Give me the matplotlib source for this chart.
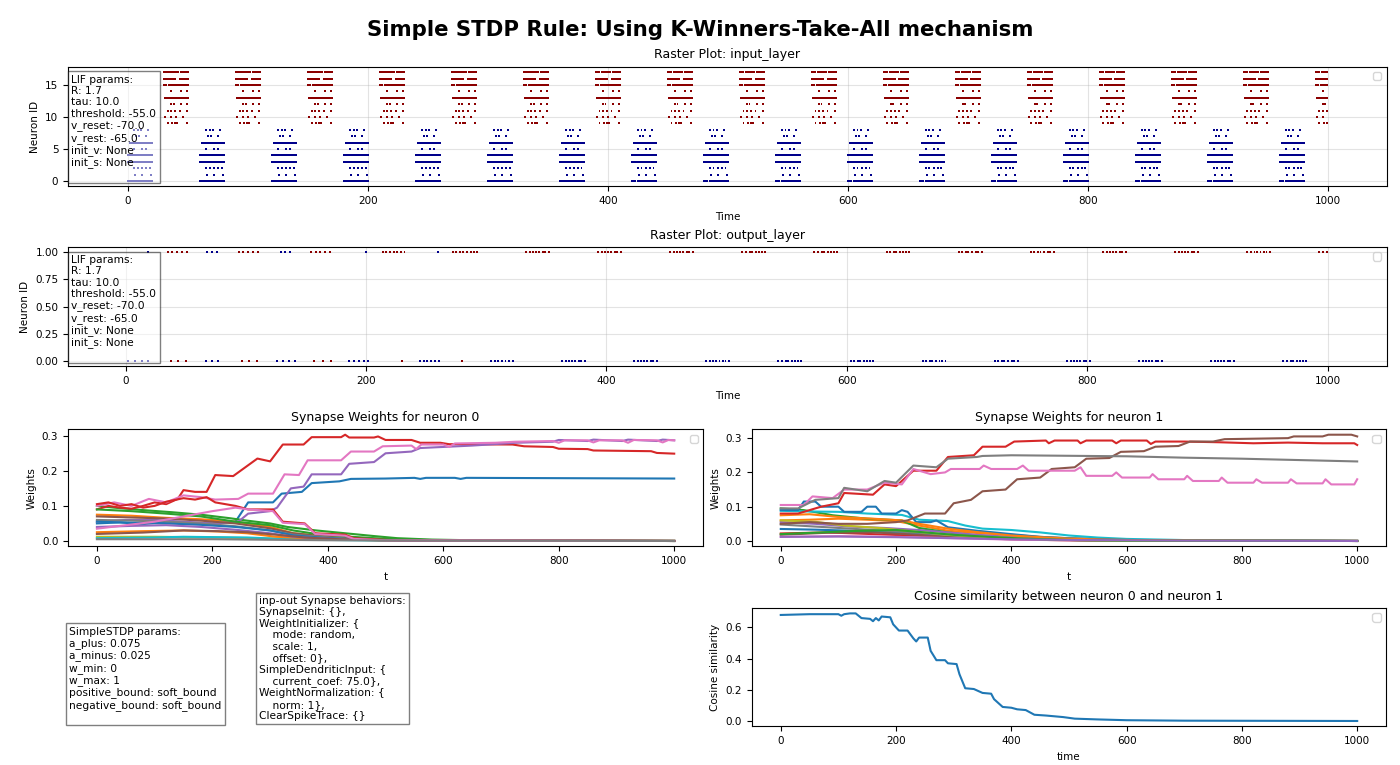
import matplotlib
matplotlib.use('Agg')
import matplotlib.pyplot as plt
import numpy as np

# ---- data ----
sim_steps = 1000
period = 60          # one blue pattern + one red pattern
red_shift = 30
cycle_starts = list(range(0, sim_steps, period))

# spike offsets (inside a 20 step window) of every input neuron
blue_pattern = [
    [0, 1, 2, 3, 5, 6, 7, 8, 9, 11, 12, 13, 14, 16, 17, 18, 19, 20],   # 0
    [6, 12, 19],                                                      # 1
    [5, 8, 12, 15, 18],                                               # 2
    [0, 1, 2, 3, 4, 5, 6, 7, 8, 9, 10, 11, 12, 13, 14, 15, 16, 17, 18, 19, 20],  # 3
    [0, 1, 2, 3, 4, 5, 6, 7, 8, 9, 10, 11, 12, 13, 14, 15, 16, 17, 18, 19, 20],  # 4
    [5, 12, 15],                                                      # 5
    [2, 3, 4, 5, 6, 7, 8, 9, 10, 11, 12, 13, 14, 15, 16, 17, 18, 19, 20],  # 6
    [7, 9, 15],                                                       # 7
    [5, 8, 11, 17],                                                   # 8
]
red_pattern = [
    [3, 7, 9, 11, 19],                                                # 9
    [1, 6, 10, 16],                                                   # 10
    [3, 6, 9, 13, 19],                                                # 11
    [6, 8, 14, 19],                                                   # 12
    [1, 2, 3, 4, 5, 6, 7, 8, 9, 11, 12, 13, 14, 15, 16, 17, 18, 19, 20],  # 13
    [6, 14, 19],                                                      # 14
    [0, 1, 2, 4, 5, 6, 7, 8, 9, 10, 11, 12, 13, 14, 15, 16, 17, 18, 19, 20],  # 15
    [0, 1, 2, 3, 4, 5, 6, 7, 8, 9, 13, 14, 16, 17, 18, 19, 20],       # 16
    [0, 1, 2, 3, 5, 6, 7, 8, 9, 10, 11, 12, 14, 15, 16, 17, 18, 19, 20],  # 17
]

# output spikes
out0_early = [2, 8, 14, 19, 38, 44, 50, 67, 72, 77, 97, 103, 109, 126, 131, 136, 141,
              157, 164, 171, 186, 190, 194, 198, 202, 230, 245, 248, 251, 254, 257, 261,
              280, 304, 307, 310, 313, 316, 319, 322]
out0_offsets = [3, 6, 9, 11, 14, 17, 19, 22]       # per cycle, from t=360
out1_early = [19, 35, 39, 43, 47, 51, 68, 72, 76, 94, 98, 102, 106, 110, 129, 133, 137,
              154, 158, 162, 166, 170, 200, 214, 217, 220, 223, 226, 229, 232, 260,
              272, 275, 278, 281, 284, 287, 290, 292]
out1_offsets = [33, 36, 39, 41, 44, 47, 49, 52]    # per cycle, from t=300

lif_text = ("LIF params:\nR: 1.7\ntau: 10.0\nthreshold: -55.0\nv_reset: -70.0\n"
            "v_rest: -65.0\ninit_v: None\ninit_s: None\n")
stdp_text = ("SimpleSTDP params:\na_plus: 0.075\na_minus: 0.025\nw_min: 0\nw_max: 1\n"
             "positive_bound: soft_bound\nnegative_bound: soft_bound\n")
syn_text = ("inp-out Synapse behaviors:\nSynapseInit: {},\nWeightInitializer: {\n"
            "    mode: random,\n    scale: 1,\n    offset: 0},\nSimpleDendriticInput: {\n"
            "    current_coef: 75.0},\nWeightNormalization: {\n    norm: 1},\nClearSpikeTrace: {}")

# synapse weights of output neuron 0, (t, w) break points per input
n0_s0 = [(0, .050), (40, .053), (80, .048), (120, .055), (160, .052), (200, .050), (240, .055),
         (262, .110), (305, .110), (320, .135), (355, .140), (372, .165), (420, .170), (440, .177),
         (500, .178), (550, .180), (560, .177), (570, .180), (620, .180), (630, .177), (640, .180), (1000, .178)]
n0_s1 = [(0, .075), (60, .072), (120, .066), (180, .062), (240, .055), (300, .040), (340, .022),
         (400, .012), (460, .005), (520, .002), (600, .001), (1000, 0)]
n0_s2 = [(0, .100), (30, .095), (80, .088), (130, .082), (180, .075), (230, .065), (260, .058),
         (300, .050), (330, .040), (380, .030), (430, .022), (480, .014), (520, .008), (580, .004),
         (650, .002), (1000, 0)]
n0_s3 = [(0, .090), (20, .100), (40, .095), (60, .092), (80, .100), (100, .110), (120, .105),
         (140, .120), (150, .145), (170, .140), (190, .140), (205, .188), (236, .185), (278, .235),
         (300, .227), (322, .275), (358, .275), (372, .296), (423, .296), (430, .303), (437, .295),
         (480, .295), (487, .298), (500, .288), (545, .288), (560, .280), (595, .280), (610, .276),
         (720, .275), (740, .270), (790, .268), (800, .263), (850, .262), (860, .258), (960, .256),
         (970, .251), (1000, .249)]
n0_s4 = [(0, .055), (50, .060), (100, .060), (150, .055), (200, .050), (245, .055), (262, .078),
         (300, .085), (312, .095), (336, .150), (358, .155), (372, .190), (423, .190), (437, .220),
         (480, .225), (500, .250), (545, .255), (560, .265), (650, .272), (725, .280), (790, .283),
         (800, .288), (850, .285), (860, .289), (910, .285), (920, .289), (970, .285), (980, .289),
         (1000, .287)]
n0_s5 = [(0, .070), (60, .067), (120, .064), (180, .058), (240, .050), (300, .036), (340, .022),
         (400, .012), (460, .006), (520, .003), (600, .001), (1000, 0)]
n0_s6 = [(0, .100), (30, .110), (60, .100), (90, .120), (120, .110), (150, .130), (180, .125),
         (205, .118), (245, .120), (262, .135), (305, .135), (325, .190), (350, .188), (365, .230),
         (423, .230), (440, .255), (480, .255), (495, .270), (545, .272), (553, .262), (562, .275),
         (600, .275), (610, .268), (620, .278), (690, .280), (725, .283), (790, .285), (800, .280),
         (810, .287), (850, .287), (860, .281), (870, .287), (910, .287), (920, .280), (930, .288),
         (970, .287), (980, .281), (990, .288), (1000, .287)]
n0_s7 = [(0, .060), (60, .058), (120, .055), (180, .050), (240, .042), (300, .030), (340, .018),
         (400, .010), (460, .005), (540, .002), (1000, 0)]
n0_s8 = [(0, .012), (100, .012), (200, .010), (300, .007), (400, .004), (500, .002), (600, .001), (1000, 0)]
n0_s9 = [(0, .008), (100, .010), (150, .012), (200, .011), (260, .010), (320, .006), (400, .003),
         (500, .001), (1000, 0)]
n0_s10 = [(0, .055), (60, .052), (120, .050), (180, .046), (240, .040), (300, .030), (340, .016),
          (400, .008), (460, .004), (540, .002), (1000, 0)]
n0_s11 = [(0, .025), (80, .028), (150, .030), (210, .027), (260, .022), (310, .012), (360, .008),
          (420, .004), (500, .002), (1000, 0)]
n0_s12 = [(0, .090), (60, .085), (120, .078), (180, .070), (240, .055), (300, .045), (340, .030),
          (380, .020), (440, .012), (500, .006), (560, .003), (640, .001), (1000, 0)]
n0_s13 = [(0, .105), (20, .110), (40, .100), (60, .105), (80, .095), (100, .100), (120, .112),
          (150, .122), (170, .118), (190, .125), (205, .110), (240, .100), (262, .090), (305, .090),
          (322, .055), (360, .050), (378, .022), (430, .018), (445, .008), (500, .003), (560, .001), (1000, 0)]
n0_s14 = [(0, .040), (60, .043), (120, .045), (180, .040), (240, .032), (300, .022), (340, .012),
          (400, .006), (460, .003), (540, .001), (1000, 0)]
n0_s15 = [(0, .020), (80, .024), (150, .030), (210, .028), (260, .025), (310, .018), (360, .010),
          (420, .005), (500, .002), (1000, 0)]
n0_s16 = [(0, .035), (50, .045), (100, .055), (150, .070), (200, .085), (240, .095), (262, .090),
          (305, .085), (322, .052), (360, .048), (378, .020), (430, .015), (445, .006), (500, .002), (1000, 0)]
n0_s17 = [(0, .005), (200, .005), (400, .002), (600, .001), (1000, 0)]

# synapse weights of output neuron 1
n1_s0 = [(0, .035), (60, .033), (120, .030), (180, .027), (240, .022), (300, .015), (360, .010),
         (420, .006), (500, .003), (600, .001), (1000, 0)]
n1_s1 = [(0, .060), (50, .062), (100, .065), (150, .062), (200, .058), (240, .045), (290, .030),
         (350, .022), (400, .018), (450, .012), (500, .008), (550, .005), (600, .003), (700, .001), (1000, 0)]
n1_s2 = [(0, .095), (40, .090), (90, .075), (150, .065), (210, .060), (240, .038), (290, .025),
         (340, .016), (400, .009), (460, .004), (540, .002), (1000, 0)]
n1_s3 = [(0, .022), (80, .025), (160, .020), (240, .015), (300, .010), (380, .006), (460, .003),
         (560, .001), (1000, 0)]
n1_s4 = [(0, .055), (60, .050), (120, .042), (180, .038), (240, .032), (290, .025), (340, .018),
         (400, .012), (460, .008), (540, .004), (640, .002), (1000, 0)]
n1_s5 = [(0, .018), (80, .024), (160, .025), (240, .018), (300, .012), (380, .006), (460, .003),
         (560, .001), (1000, 0)]
n1_s6 = [(0, .012), (100, .014), (200, .012), (300, .008), (400, .004), (500, .002), (1000, 0)]
n1_s7 = [(0, .048), (60, .042), (120, .036), (180, .030), (240, .024), (300, .016), (360, .010),
         (420, .006), (500, .003), (600, .001), (1000, 0)]
n1_s8 = [(0, .060), (60, .056), (110, .045), (170, .038), (230, .028), (290, .018), (350, .012),
         (420, .007), (500, .003), (600, .001), (1000, 0)]
n1_s9 = [(0, .088), (50, .086), (100, .085), (150, .080), (210, .076), (240, .062), (290, .058),
         (320, .045), (350, .036), (400, .032), (450, .025), (500, .016), (550, .010), (600, .006),
         (660, .004), (720, .002), (800, .001), (1000, 0)]
n1_s10 = [(0, .090), (30, .090), (40, .115), (60, .115), (70, .100), (100, .100), (110, .085),
          (140, .085), (150, .100), (165, .100), (175, .080), (200, .080), (210, .090), (220, .085),
          (235, .055), (260, .055), (270, .060), (290, .040), (340, .030), (400, .020), (450, .012),
          (500, .008), (600, .003), (1000, 0)]
n1_s11 = [(0, .075), (50, .078), (100, .070), (160, .065), (210, .060), (240, .050), (290, .036),
          (340, .026), (400, .016), (450, .011), (500, .007), (560, .004), (640, .002), (1000, 0)]
n1_s12 = [(0, .020), (70, .025), (140, .030), (200, .032), (250, .025), (300, .018), (360, .012),
          (420, .007), (500, .003), (600, .001), (1000, 0)]
n1_s13 = [(0, .080), (30, .080), (50, .090), (70, .100), (100, .110), (110, .140), (160, .135),
          (180, .165), (200, .160), (230, .205), (270, .205), (290, .245), (335, .250), (350, .275),
          (390, .275), (405, .290), (460, .293), (465, .285), (475, .293), (515, .293), (520, .285),
          (530, .293), (575, .293), (582, .285), (590, .293), (635, .293), (642, .283), (650, .290),
          (700, .290), (760, .288), (820, .285), (880, .287), (940, .285), (995, .285), (1000, .280)]
n1_s14 = [(0, .012), (100, .013), (200, .011), (300, .008), (400, .005), (500, .003), (600, .002),
          (700, .001), (1000, 0)]
n1_s15 = [(0, .050), (50, .055), (100, .050), (150, .050), (200, .055), (220, .060), (250, .080),
          (285, .080), (300, .110), (330, .120), (350, .145), (390, .150), (410, .180), (450, .185),
          (470, .210), (510, .215), (530, .240), (570, .242), (590, .260), (630, .262), (650, .275),
          (690, .277), (710, .290), (750, .290), (770, .297), (880, .300), (890, .305), (940, .305),
          (950, .310), (990, .310), (1000, .305)]
n1_s16 = [(0, .105), (40, .105), (55, .130), (90, .125), (110, .150), (150, .150), (180, .170),
          (210, .165), (230, .210), (260, .195), (285, .200), (295, .210), (345, .210), (352, .220),
          (365, .210), (410, .210), (420, .220), (430, .205), (510, .205), (520, .215), (530, .190),
          (575, .190), (582, .200), (592, .185), (640, .185), (645, .195), (655, .180), (700, .180),
          (705, .190), (715, .175), (760, .175), (765, .185), (775, .170), (820, .170), (825, .180),
          (835, .170), (880, .170), (885, .180), (895, .168), (940, .168), (945, .180), (955, .165),
          (995, .165), (1000, .180)]
n1_s17 = [(0, .095), (30, .095), (60, .120), (100, .125), (110, .155), (150, .145), (180, .175),
          (200, .170), (230, .220), (270, .215), (290, .240), (340, .245), (350, .248), (400, .250),
          (600, .247), (700, .243), (800, .240), (900, .236), (1000, .232)]

n0_syn = [n0_s0, n0_s1, n0_s2, n0_s3, n0_s4, n0_s5, n0_s6, n0_s7, n0_s8,
          n0_s9, n0_s10, n0_s11, n0_s12, n0_s13, n0_s14, n0_s15, n0_s16, n0_s17]
n1_syn = [n1_s0, n1_s1, n1_s2, n1_s3, n1_s4, n1_s5, n1_s6, n1_s7, n1_s8,
          n1_s9, n1_s10, n1_s11, n1_s12, n1_s13, n1_s14, n1_s15, n1_s16, n1_s17]

# cosine similarity between the two weight vectors
cos_t = [0, 50, 100, 105, 110, 120, 130, 140, 155, 160, 165, 170, 175, 190, 195, 200, 205, 220,
         230, 235, 240, 255, 260, 270, 285, 290, 305, 310, 320, 335, 350, 365, 370, 385, 400, 410,
         425, 440, 460, 490, 510, 550, 600, 700, 1000]
cos_v = [0.68, 0.685, 0.685, 0.675, 0.685, 0.69, 0.69, 0.66, 0.655, 0.64, 0.66, 0.645, 0.67, 0.665,
         0.62, 0.60, 0.58, 0.58, 0.53, 0.51, 0.535, 0.535, 0.45, 0.39, 0.39, 0.37, 0.365, 0.30, 0.21,
         0.205, 0.18, 0.175, 0.14, 0.09, 0.085, 0.075, 0.07, 0.04, 0.035, 0.025, 0.015, 0.01, 0.005,
         0.002, 0.0]

BLUE = '#00008b'
RED = '#8b0000'
TXT = dict(fontsize=7.7, linespacing=1.18, va='top', ha='left',
           bbox=dict(facecolor='white', alpha=0.5, boxstyle='square,pad=0.3'))


def input_spikes():
  ts, ids, cols = [], [], []
  for c in cycle_starts:
    for nid, offs in enumerate(blue_pattern):
      for o in offs:
        if c + o < sim_steps:
          ts.append(c + o); ids.append(nid); cols.append(BLUE)
    for k, offs in enumerate(red_pattern):
      for o in offs:
        t = c + red_shift + o
        if t < sim_steps:
          ts.append(t); ids.append(9 + k); cols.append(RED)
  return ts, ids, cols


def output_spikes():
  t0 = list(out0_early) + [c + o for c in cycle_starts if c >= 360 for o in out0_offsets]
  t1 = list(out1_early) + [c + o for c in cycle_starts if c >= 300 for o in out1_offsets]
  t0 = [t for t in t0 if t < sim_steps]
  t1 = [t for t in t1 if t < sim_steps]
  ts = t0 + t1
  ids = [0] * len(t0) + [1] * len(t1)
  cols = [BLUE if (t % period) < red_shift else RED for t in ts]
  return ts, ids, cols


def raster(ax, ts, ids, cols, title):
  ax.scatter(ts, ids, s=2.0, c=cols, marker='s', linewidths=0)
  ax.set_title(title)
  ax.set_xlabel('Time')
  ax.set_ylabel('Neuron ID')
  ax.grid(True, alpha=0.35)
  ax.set_axisbelow(True)
  ax.text(0.0025, 0.935, lif_text, transform=ax.transAxes, **TXT)
  ax.legend(handles=[], loc='upper right')


def weights(ax, syn, title):
  for pts in syn:
    t = [p[0] for p in pts]
    w = [p[1] for p in pts]
    ax.plot(t, w, lw=1.5)
  ax.set_title(title)
  ax.set_xlabel('t')
  ax.set_ylabel('Weights')
  ax.legend(handles=[], loc='upper right')


plt.rcParams['font.size'] = 7.5
fig = plt.figure(figsize=(14, 7.65), dpi=100)
fig.suptitle('Simple STDP Rule: Using K-Winners-Take-All mechanism',
             fontsize=15.3, fontweight='bold', y=0.974)

ax_in = fig.add_axes([0.0486, 0.7563, 0.9418, 0.1564])
ax_out = fig.add_axes([0.0486, 0.5215, 0.9418, 0.1556])
ax_w0 = fig.add_axes([0.0486, 0.2859, 0.4536, 0.1528])
ax_w1 = fig.add_axes([0.5371, 0.2859, 0.4529, 0.1528])
ax_cos = fig.add_axes([0.5371, 0.0505, 0.4529, 0.1547])

raster(ax_in, *input_spikes(), 'Raster Plot: input_layer')
raster(ax_out, *output_spikes(), 'Raster Plot: output_layer')
weights(ax_w0, n0_syn, 'Synapse Weights for neuron 0')
weights(ax_w1, n1_syn, 'Synapse Weights for neuron 1')

ax_cos.plot(cos_t, cos_v, lw=1.5)
ax_cos.set_title('Cosine similarity between neuron 0 and neuron 1')
ax_cos.set_xlabel('time')
ax_cos.set_ylabel('Cosine similarity')
ax_cos.legend(handles=[], loc='upper right')

fig.text(0.0495, 0.181, stdp_text, **TXT)
fig.text(0.185, 0.221, syn_text, **TXT)

fig.savefig('out.png', dpi=100)
